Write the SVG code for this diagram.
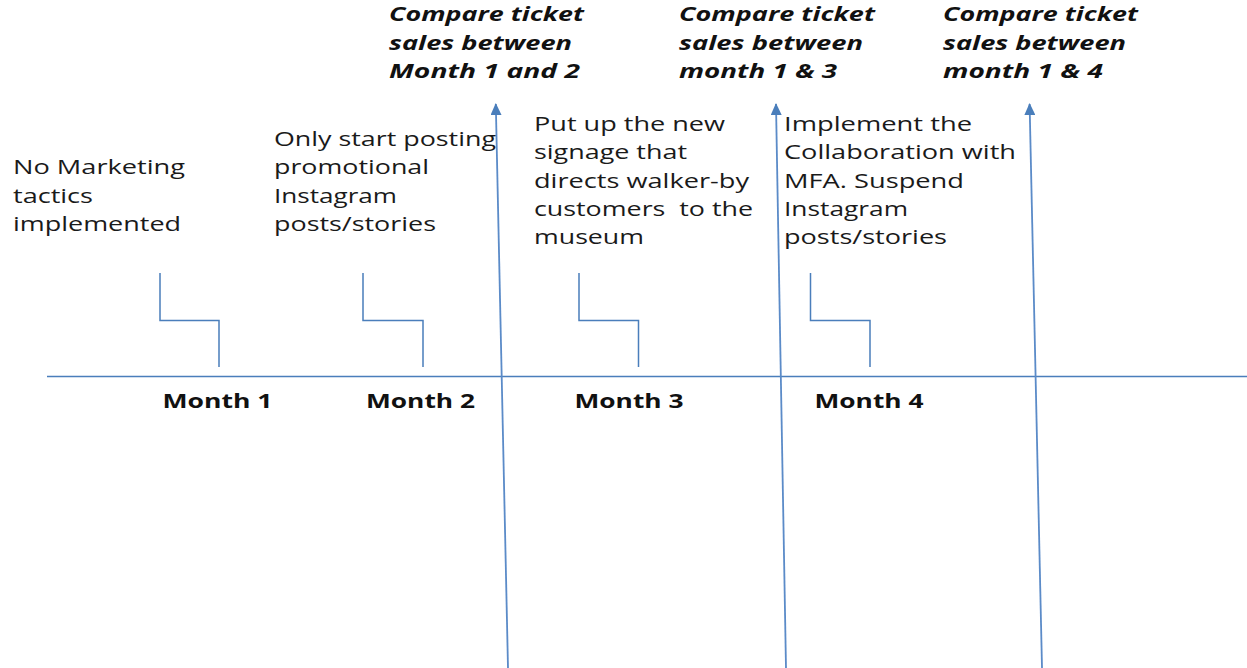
<svg xmlns="http://www.w3.org/2000/svg" width="1247" height="668" viewBox="0 0 1247 668">
  <style>
    .line { fill: none; stroke: #4a7ebb; stroke-width: 1.5; }
    .arrow { fill: none; stroke: #5b8bc8; stroke-width: 1.8; }
    .note { font-family: "Open Sans", "Noto Sans", sans-serif; font-size: 20px; fill: #1a1a1a; white-space: pre; }
    .month { font-family: "Open Sans", "Noto Sans", sans-serif; font-size: 20px; font-weight: bold; fill: #111; }
    .check { font-family: "Open Sans", "Noto Sans", sans-serif; font-size: 20px; font-weight: bold; font-style: italic; fill: #111; }
  </style>
  <defs>
    <marker id="head" viewBox="0 0 12 11" refX="11" refY="5.5" markerWidth="12" markerHeight="11" markerUnits="userSpaceOnUse" orient="auto">
      <path d="M0,0 L12,5.5 L0,11 Z" fill="#4a7ebb"/>
    </marker>
  </defs>
  <rect width="1247" height="668" fill="#ffffff"/>

  <!-- timeline, elbow leaders and comparison arrows -->
  <g id="connectors">
    <line class="line" x1="47" y1="376.5" x2="1247" y2="376.5"/>
    <polyline class="line" points="160,273 160,320.5 219,320.5 219,367"/>
    <polyline class="line" points="363,273 363,320.5 423,320.5 423,367"/>
    <polyline class="line" points="579,273 579,320.5 638.5,320.5 638.5,367"/>
    <polyline class="line" points="810.5,273 810.5,320.5 870,320.5 870,367"/>
    <line class="arrow" x1="508" y1="668" x2="495.8" y2="104" marker-end="url(#head)"/>
    <line class="arrow" x1="786" y1="668" x2="776" y2="104" marker-end="url(#head)"/>
    <line class="arrow" x1="1042" y1="668" x2="1029.6" y2="104" marker-end="url(#head)"/>
  </g>

  <g id="note-month1">
    <text class="note" x="13" y="174" textLength="172" lengthAdjust="spacingAndGlyphs">No Marketing</text>
    <text class="note" x="13" y="202.7" textLength="80" lengthAdjust="spacingAndGlyphs">tactics</text>
    <text class="note" x="13" y="231" textLength="168" lengthAdjust="spacingAndGlyphs">implemented</text>
  </g>

  <g id="note-month2">
    <text class="note" x="274" y="145.7" textLength="222" lengthAdjust="spacingAndGlyphs">Only start posting</text>
    <text class="note" x="274" y="174.3" textLength="155" lengthAdjust="spacingAndGlyphs">promotional</text>
    <text class="note" x="274" y="202.7" textLength="123" lengthAdjust="spacingAndGlyphs">Instagram</text>
    <text class="note" x="274" y="230.5" textLength="162" lengthAdjust="spacingAndGlyphs">posts/stories</text>
  </g>

  <g id="note-month3">
    <text class="note" x="534" y="130.7" textLength="191" lengthAdjust="spacingAndGlyphs">Put up the new</text>
    <text class="note" x="534" y="159.2" textLength="153" lengthAdjust="spacingAndGlyphs">signage that</text>
    <text class="note" x="534" y="187.7" textLength="215" lengthAdjust="spacingAndGlyphs">directs walker-by</text>
    <text class="note" x="534" y="216.2" textLength="219" lengthAdjust="spacingAndGlyphs">customers  to the</text>
    <text class="note" x="534" y="244.2" textLength="110" lengthAdjust="spacingAndGlyphs">museum</text>
  </g>

  <g id="note-month4">
    <text class="note" x="784" y="130.7" textLength="188" lengthAdjust="spacingAndGlyphs">Implement the</text>
    <text class="note" x="784" y="159.2" textLength="232" lengthAdjust="spacingAndGlyphs">Collaboration with</text>
    <text class="note" x="784" y="187.7" textLength="180" lengthAdjust="spacingAndGlyphs">MFA. Suspend</text>
    <text class="note" x="784" y="216.2" textLength="124" lengthAdjust="spacingAndGlyphs">Instagram</text>
    <text class="note" x="784" y="244.2" textLength="163" lengthAdjust="spacingAndGlyphs">posts/stories</text>
  </g>

  <g id="month-labels">
    <text class="month" x="162.5" y="407.5" textLength="110" lengthAdjust="spacingAndGlyphs">Month 1</text>
    <text class="month" x="366" y="407.5" textLength="109" lengthAdjust="spacingAndGlyphs">Month 2</text>
    <text class="month" x="574.5" y="407.5" textLength="109" lengthAdjust="spacingAndGlyphs">Month 3</text>
    <text class="month" x="814.5" y="407.5" textLength="109" lengthAdjust="spacingAndGlyphs">Month 4</text>
  </g>

  <g id="compare-1-2">
    <text class="check" x="389" y="21" textLength="195" lengthAdjust="spacingAndGlyphs">Compare ticket</text>
    <text class="check" x="389" y="49.5" textLength="183" lengthAdjust="spacingAndGlyphs">sales between</text>
    <text class="check" x="389" y="78" textLength="191" lengthAdjust="spacingAndGlyphs">Month 1 and 2</text>
  </g>

  <g id="compare-1-3">
    <text class="check" x="679" y="21" textLength="196" lengthAdjust="spacingAndGlyphs">Compare ticket</text>
    <text class="check" x="679" y="49.5" textLength="184" lengthAdjust="spacingAndGlyphs">sales between</text>
    <text class="check" x="679" y="78" textLength="158" lengthAdjust="spacingAndGlyphs">month 1 &amp; 3</text>
  </g>

  <g id="compare-1-4">
    <text class="check" x="943" y="21" textLength="195" lengthAdjust="spacingAndGlyphs">Compare ticket</text>
    <text class="check" x="943" y="49.5" textLength="183" lengthAdjust="spacingAndGlyphs">sales between</text>
    <text class="check" x="943" y="78" textLength="160" lengthAdjust="spacingAndGlyphs">month 1 &amp; 4</text>
  </g>
</svg>
